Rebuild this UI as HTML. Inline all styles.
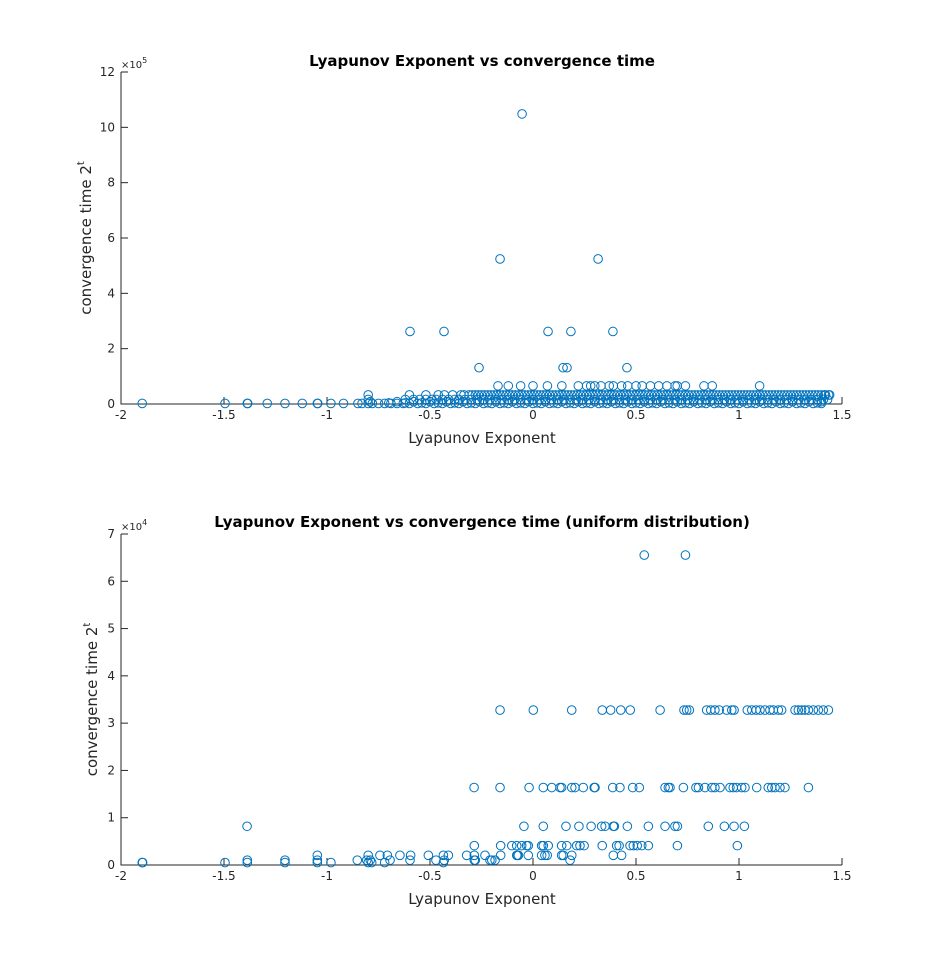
<!DOCTYPE html>
<html><head><meta charset="utf-8"><style>
html,body{margin:0;padding:0;background:#fff;}
svg{display:block;font-family:"DejaVu Sans","Liberation Sans",sans-serif;}
</style></head><body>
<svg id="c" width="932" height="973" viewBox="0 0 932 973"></svg>
<script>
// ---------- data: top plot (convergence time = value) ----------
const topX_1048576=[-0.053];
const topX_524288=[-0.16,0.316];
const topX_262144=[-0.597,-0.432,0.073,0.184,0.388];
const topX_131072=[-0.262,0.146,0.165,0.456];
const topX_65536=[-0.17,-0.12,-0.06,0.0,0.07,0.14,0.22,0.26,0.28,0.30,0.33,0.37,0.39,0.43,0.46,0.50,0.53,0.57,0.61,0.65,0.69,0.70,0.74,0.83,0.87,1.10];
const topX_32768=[-0.80,-0.60,-0.52,-0.46,-0.43,-0.39,-0.35,-0.31,-0.28,-0.25,-0.22,-0.19,-0.16,-0.13,-0.10,-0.07,-0.04,-0.01,0.02,0.05,0.08,0.11,0.14,0.17,0.20,0.23,0.26,0.29,0.32,0.35,0.38,0.41,0.44,0.47,0.50,0.53,0.56,0.59,0.62,0.65,0.68,0.71,0.74,0.77,0.80,0.83,0.86,0.89,0.92,0.95,0.98,1.01,1.04,1.07,1.10,1.13,1.16,1.19,1.22,1.25,1.28,1.31,1.34,1.37,1.40,1.42,1.44];
const topX_32768b=[-0.335,-0.295,-0.265,-0.235,-0.205,-0.175,-0.145,-0.115,-0.085,-0.055,-0.025,0.005,0.035,0.065,0.095,0.125,0.155,0.185,0.215,0.245,0.275,0.305,0.335,0.365,0.395,0.425,0.455,0.485,0.515,0.545,0.575,0.605,0.635,0.665,0.695,0.725,0.755,0.785,0.815,0.845,0.875,0.905,0.935,0.965,0.995,1.025,1.055,1.085,1.115,1.145,1.175,1.205,1.235,1.265,1.295,1.325,1.355,1.385,1.415,1.435];
const topX_16384=[-0.80,-0.62,-0.55,-0.49,-0.44,-0.38,-0.33,-0.27,-0.21,-0.15,-0.09,-0.03,0.03,0.09,0.15,0.21,0.27,0.33,0.39,0.45,0.51,0.57,0.63,0.69,0.75,0.81,0.87,0.93,0.99,1.05,1.11,1.17,1.23,1.29,1.35,1.41];
const topX_16384b=[-0.58,-0.52,-0.47,-0.41,-0.36,-0.30,-0.24,-0.18,-0.12,-0.06,0.0,0.06,0.12,0.18,0.24,0.30,0.36,0.42,0.48,0.54,0.60,0.66,0.72,0.78,0.84,0.90,0.96,1.02,1.08,1.14,1.20,1.26,1.32,1.38,1.43];
const topX_8192=[-0.79,-0.66,-0.58,-0.50,-0.42,-0.34,-0.26,-0.18,-0.10,-0.02,0.06,0.14,0.22,0.30,0.38,0.46,0.54,0.62,0.70,0.78,0.86,0.94,1.02,1.10,1.18,1.26,1.34,1.40];
const topX_4096=[-0.70,-0.62,-0.54,-0.46,-0.38,-0.30,-0.22,-0.14,-0.06,0.02,0.10,0.18,0.26,0.34,0.42,0.50,0.58,0.66,0.74,0.82,0.90,0.98,1.06,1.14,1.22,1.30,1.38];
const topX_2048=[-1.897,-1.495,-1.387,-1.385,-1.29,-1.204,-1.12,-1.047,-1.045,-0.981,-0.92,-0.85,-0.83,-0.80,-0.78,-0.75,-0.72,-0.69,-0.66,-0.63,-0.60,-0.56,-0.52,-0.48,-0.44,-0.40,-0.36,-0.32,-0.28,-0.24,-0.20,-0.16,-0.12,-0.08,-0.04,0.0,0.04,0.08,0.12,0.16,0.20,0.24,0.28,0.32,0.36,0.40,0.44,0.48,0.52,0.56,0.60,0.64,0.68,0.72,0.76,0.80,0.84,0.88,0.92,0.96,1.00,1.04,1.08,1.12,1.16,1.20,1.24,1.28,1.32,1.36,1.40];
// ---------- data: bottom plot ----------
const botX_65536=[0.54,0.74];
const botX_32768=[-0.160,0.0015,0.188,0.336,0.377,0.426,0.472,0.617,0.733,0.746,0.759,0.843,0.863,0.883,0.904,0.940,0.965,0.976,1.040,1.062,1.083,1.102,1.126,1.150,1.167,1.191,1.207,1.272,1.288,1.304,1.320,1.337,1.361,1.385,1.409,1.434];
const botX_16384=[-0.286,-0.160,-0.019,0.050,0.091,0.131,0.139,0.188,0.204,0.244,0.297,0.301,0.387,0.422,0.484,0.516,0.641,0.657,0.665,0.730,0.791,0.803,0.835,0.868,0.883,0.908,0.956,0.972,0.988,1.013,1.029,1.086,1.142,1.159,1.175,1.199,1.223,1.337];
const botX_8192=[-1.388,-0.044,0.050,0.160,0.223,0.282,0.333,0.350,0.390,0.395,0.458,0.560,0.641,0.689,0.701,0.851,0.929,0.976,1.026];
const botX_4096=[-0.285,-0.157,-0.103,-0.079,-0.055,-0.031,-0.023,0.042,0.050,0.074,0.139,0.164,0.212,0.228,0.248,0.336,0.406,0.418,0.471,0.487,0.506,0.528,0.560,0.701,0.992];
const botX_2048=[-1.047,-0.800,-0.743,-0.707,-0.646,-0.594,-0.508,-0.435,-0.411,-0.322,-0.285,-0.233,-0.157,-0.076,-0.023,-0.079,-0.071,0.042,0.058,0.069,0.139,0.147,0.188,0.390,0.430];
const botX_1024=[-1.387,-1.204,-1.047,-0.853,-0.807,-0.79,-0.694,-0.597,-0.471,-0.431,-0.285,-0.28,-0.209,-0.184,-0.200,0.180];
const botX_512=[-1.897,-1.895,-1.495,-1.387,-1.204,-1.047,-0.981,-0.800,-0.783,-0.720,-0.435];
const xTicks=[-2,-1.5,-1,-0.5,0,0.5,1,1.5];
const xTickLabels=["-2","-1.5","-1","-0.5","0","0.5","1","1.5"];
const topYTicks=[0,2,4,6,8,10,12];
const botYTicks=[0,1,2,3,4,5,6,7];

const NS="http://www.w3.org/2000/svg";
const svg=document.getElementById('c');
function mk(tag,attrs,parent){const e=document.createElementNS(NS,tag);for(const k in attrs)e.setAttribute(k,attrs[k]);(parent||svg).appendChild(e);return e;}
function xs(v){return 121+(v+2)*206;}

function drawAxes(p){
  const g=mk('g',{});
  
  
  const ys=v=>p.y0-(v/p.scale)*(p.y0-p.yTop)/p.maxT;
  const ax=mk('path',{d:`M121 ${p.yTop}V${p.y0}H842`,stroke:'#262626','stroke-width':1,fill:'none'},g);
  
  
  xTicks.forEach((t,i)=>{
    const x=xs(t);
    mk('line',{x1:x,x2:x,y1:p.y0,y2:p.y0-7,stroke:'#262626'},g);
    const tx=mk('text',{x:x,y:p.y0+15,'text-anchor':'middle','font-size':12,fill:'#262626'},g);
    tx.textContent=xTickLabels[i];
    
    
  });
  p.yt.forEach(t=>{
    const y=p.y0-t*(p.y0-p.yTop)/p.maxT;
    mk('line',{x1:121,x2:128,y1:y,y2:y,stroke:'#262626'},g);
    const tx=mk('text',{x:115,y:y+4,'text-anchor':'end','font-size':12,fill:'#262626'},g);
    tx.textContent=String(t);
    
    
  });
  const ex=mk('text',{x:121,y:p.yTop-4,'font-size':10,fill:'#262626'},g);
  ex.innerHTML='×10<tspan dy="-5" font-size="8">'+p.exp+'</tspan>';
  
  
  const ti=mk('text',{x:482,y:p.titleY,'text-anchor':'middle','font-size':15,'font-weight':'bold',fill:'#000'},g);
  ti.textContent=p.title;
  
  
  const xl=mk('text',{x:482,y:p.y0+39,'text-anchor':'middle','font-size':15,fill:'#262626'},g);
  xl.textContent='Lyapunov Exponent';
  
  
  const cy=(p.y0+p.yTop)/2;
  const yl=mk('text',{x:0,y:0,'text-anchor':'middle','font-size':15,fill:'#262626',transform:`translate(${p.ylx},${cy}) rotate(-90)`},g);
  yl.innerHTML='convergence time 2<tspan dy="-7" font-size="10">t</tspan>';
  
  
  p.series.forEach(([arr,val])=>{
    arr.forEach(v=>{
      const c=mk('circle',{cx:xs(v),cy:ys(val),r:4.3,fill:'none',stroke:'#0072BD','stroke-width':1},g);
      
      
    });
  });
}
drawAxes({name:'top-chart',y0:404,yTop:72,maxT:12,scale:1e5,yt:topYTicks,exp:'5',titleY:66,ylx:91,
  title:'Lyapunov Exponent vs convergence time',
  series:[[topX_2048,2048],[topX_4096,4096],[topX_8192,8192],[topX_16384,16384],[topX_16384b,16384],[topX_32768,32768],[topX_32768b,32768],[topX_65536,65536],[topX_131072,131072],[topX_262144,262144],[topX_524288,524288],[topX_1048576,1048576]]});
drawAxes({name:'bottom-chart',y0:865,yTop:534,maxT:7,scale:1e4,yt:botYTicks,exp:'4',titleY:527,ylx:97,
  title:'Lyapunov Exponent vs convergence time (uniform distribution)',
  series:[[botX_512,512],[botX_1024,1024],[botX_2048,2048],[botX_4096,4096],[botX_8192,8192],[botX_16384,16384],[botX_32768,32768],[botX_65536,65536]]});
</script>
</body></html>
